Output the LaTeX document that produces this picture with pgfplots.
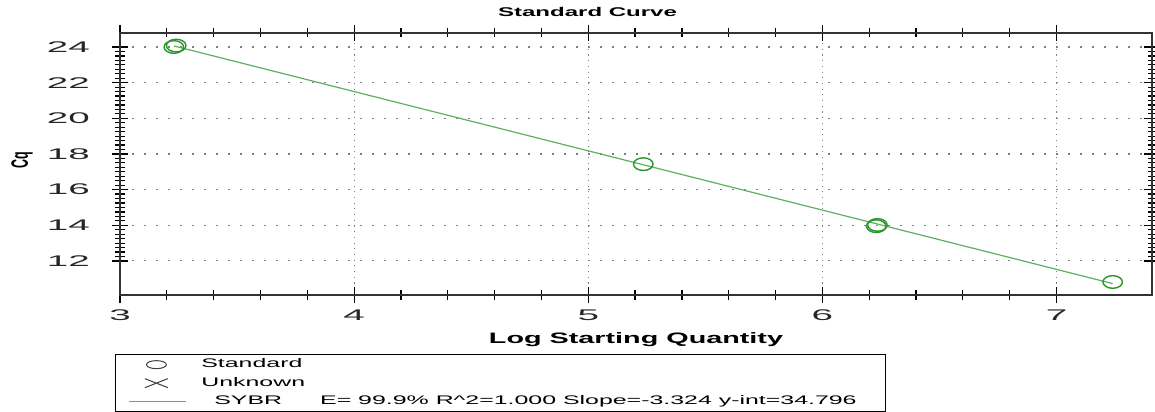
\documentclass[border=0pt]{standalone}
\usepackage{fontspec}
\setmainfont{Liberation Sans}[FakeStretch=1.9]
\newfontfamily\widefont{Liberation Sans}[FakeStretch=2.0]
\newfontfamily\tickfont{Liberation Sans}[FakeStretch=2.5]
\newfontfamily\plainfont{Liberation Sans}
\usepackage{pgfplots}
\pgfplotsset{compat=1.18}
\definecolor{lineg}{RGB}{95,175,95}
\definecolor{markg}{RGB}{40,150,40}
\begin{document}
\begin{tikzpicture}
\path[use as bounding box] (0,0) rectangle (1155bp,412bp);
\begin{axis}[
  scale only axis, width=1032bp, height=262bp,
  at={(120bp,117bp)}, anchor=south west,
  xmin=3, xmax=7.408, ymin=10.09, ymax=24.785,
  xtick={3,4,5,6,7}, ytick={12,14,16,18,20,22,24},
  minor x tick num=4, minor y tick num=7,
  tick align=center, major tick length=16bp, minor tick length=9bp,
  tick style={black, line width=1.2bp},
  axis line style={black!80, line width=1.3bp},
  xmajorgrids, ymajorgrids,
  x grid style={gray, line width=1.1bp, dash pattern=on 1.1bp off 4.6bp},
  y grid style={gray, line width=1.1bp, dash pattern=on 1.5bp off 10.5bp},
  /pgf/number format/assume math mode=true,
  ticklabel style={font=\tickfont\fontsize{15.5}{18}\selectfont, text=black!85},
  xticklabel style={anchor=base, yshift=-17bp},
  yticklabel style={anchor=east, inner xsep=0bp, xshift=-22bp},
  title={Standard Curve},
  title style={font=\bfseries\fontsize{12.7}{15}\selectfont, at={(axis description cs:0.453,1)}, anchor=base, yshift=11bp},
  xlabel={Log Starting Quantity},
  xlabel style={font=\bfseries\fontsize{15.2}{18}\selectfont, at={(axis description cs:0.5,0)}, anchor=base, yshift=-48bp},
  ylabel={\scalebox{1}[1.9]{\plainfont\bfseries Cq}},
  ylabel style={font=\fontsize{12.5}{15}\selectfont, at={(axis description cs:-0.095,0.515)}, anchor=center},
  legend cell align=left,
  legend style={at={(axis description cs:-0.00485,-0.225)}, anchor=north west,
    draw=black, line width=0.9bp, inner xsep=0bp, inner ysep=1bp,
    column sep=0bp, row sep=0bp,
    font=\widefont\fontsize{12.5}{15}\selectfont,
    nodes={inner xsep=0bp, inner ysep=3bp, text height=9.5bp, text depth=3bp, anchor=west}},
]
\addlegendimage{legend image code/.code={\draw[opacity=0] (0,-4.5bp) rectangle (85bp,4.5bp); \draw[black!75, line width=1bp] (40.5bp,0) ellipse [x radius=10bp, y radius=4bp];}}
\addlegendentry{Standard}
\addlegendimage{legend image code/.code={\draw[opacity=0] (0,-4.5bp) rectangle (85bp,4.5bp); \draw[black!75, line width=1bp] (29bp,-4.5bp) -- (52bp,4.5bp) (29bp,4.5bp) -- (52bp,-4.5bp);}}
\addlegendentry{Unknown}
\addlegendimage{legend image code/.code={\draw[opacity=0] (0,-4.5bp) rectangle (85bp,4.5bp); \draw[draw=lineg, line width=1.5bp] (13bp,0) -- (70bp,0);}}
\addlegendentry{\hspace*{13bp}SYBR\hspace{38bp}E= 99.9\% R\textasciicircum 2=1.000 Slope=-3.324 y-int=34.796\hspace*{29bp}}
\addplot[lineg, line width=1.2bp, forget plot] coordinates {(3.23,24.06) (7.24,10.73)};
\addplot[only marks, mark=o, mark size=6.3bp, color=markg, mark options={xscale=1.55, line width=1.4bp}, forget plot]
  coordinates {(3.23,24.00) (3.24,24.08) (5.235,17.43) (6.23,13.95) (6.235,14.02) (7.24,10.82)};
\end{axis}
\end{tikzpicture}
\end{document}
